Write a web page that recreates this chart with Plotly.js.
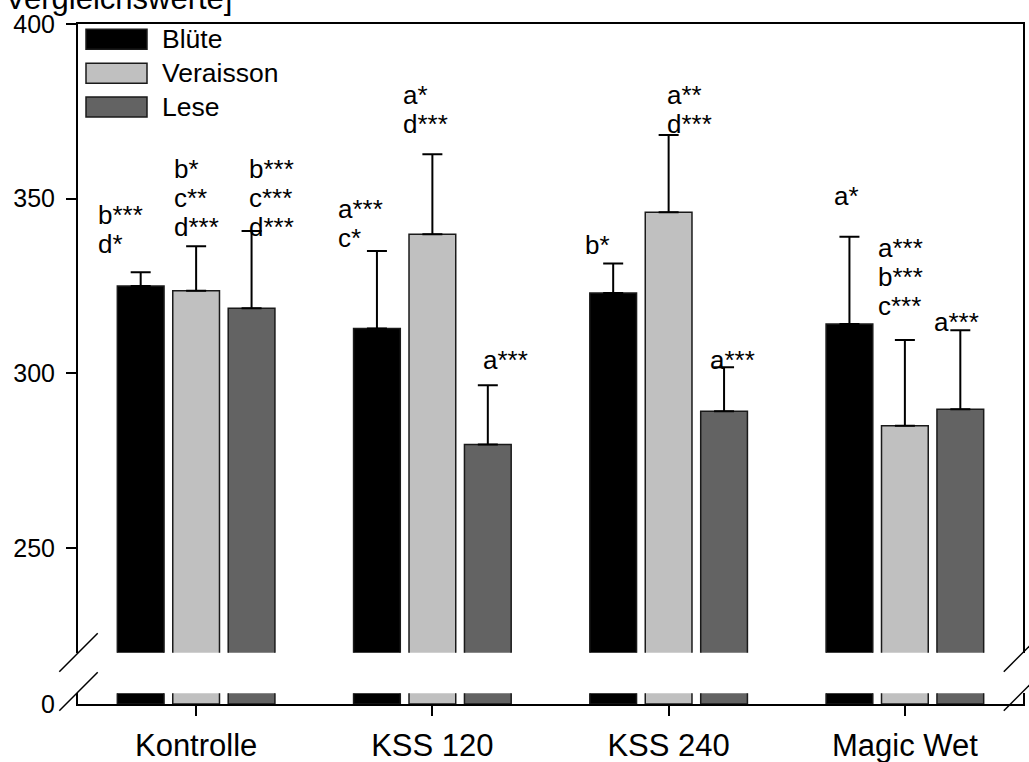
<!DOCTYPE html>
<html>
<head>
<meta charset="utf-8">
<script src="https://cdn.plot.ly/plotly-3.0.1.min.js"></script>
<style>html,body{margin:0;padding:0;background:#fff;}#chart{width:1029px;height:762px;}</style>
</head>
<body>
<div id="chart"></div>
<script>
// ---- data ----
const categories = ['Kontrolle', 'KSS 120', 'KSS 240', 'Magic Wet'];
const seriesNames = ['Blüte', 'Veraisson', 'Lese'];
const bluete = [325.0, 312.8, 323.0, 314.1];
const veraisson = [323.6, 339.8, 346.1, 285.0];
const lese = [318.6, 279.6, 289.1, 289.7];
const errBluete = [3.9, 22.2, 8.4, 25.0];
const errVeraisson = [12.8, 22.9, 22.1, 24.5];
const errLese = [22.1, 17.0, 12.6, 22.6];
const sigBluete = [['b***', 'd*'], ['a***', 'c*'], ['b*'], ['a*']];
const sigVeraisson = [['b*', 'c**', 'd***'], ['a*', 'd***'], ['a**', 'd***'], ['a***', 'b***', 'c***']];
const sigLese = [['b***', 'c***', 'd***'], ['a***'], ['a***'], ['a***']];
const yTickVals = [250, 300, 350, 400];
const yTitleFragment = 'Vergleichswerte]';

// ---- styles / layout geometry ----
const W = 1029, H = 762;
const M = {l: 78, r: 6, t: 24, b: 58};
const pw = W - M.l - M.r, ph = H - M.t - M.b;
const px2x = px => (px - M.l) / pw;
const px2y = py => (H - M.b - py) / ph;
const FONT = 'Arial, "Liberation Sans", sans-serif';
const colors = ['#000000', '#c0c0c0', '#636363'];
const outline = '#1a1a1a';

const values = [bluete, veraisson, lese];
const errs = [errBluete, errVeraisson, errLese];
const sigs = [sigBluete, sigVeraisson, sigLese];

// label placement: first-line y (data units) and x shift (px) relative to category center
const labelY = [[345.3, 347.1, 336.8, 350.7], [358.5, 379.6, 379.6, 335.9], [358.5, 303.7, 303.7, 314.7]];
const labelDx = [[-100, -96, -86, -73], [-24, -31, -4, -29], [51, 49, 39, 27]];
const linePitch = 29;

const traces = [];
values.forEach((vals, s) => {
  traces.push({
    type: 'bar', x: categories, y: vals, name: seriesNames[s],
    xaxis: 'x', yaxis: 'y', showlegend: false,
    marker: {color: colors[s], line: {color: outline, width: 1.5}},
    error_y: {type: 'data', symmetric: false, array: errs[s], arrayminus: errs[s].map(() => 0),
              color: '#000', thickness: 2, width: 10},
    hoverinfo: 'x+y'
  });
  traces.push({
    type: 'bar', x: categories, y: vals, name: seriesNames[s],
    xaxis: 'x2', yaxis: 'y2', showlegend: false,
    marker: {color: colors[s], line: {color: outline, width: 1.5}},
    hoverinfo: 'skip'
  });
});

const shapes = [];
const annotations = [];

// axis break marks
const breakCenters = [78.5, 1023];
breakCenters.forEach(cx => {
  [[671.7, 633.3], [710.7, 672.3]].forEach(([y0, y1]) => {
    shapes.push({type: 'line', xref: 'paper', yref: 'paper',
      x0: px2x(cx - 19.2), y0: px2y(y0), x1: px2x(cx + 19.2), y1: px2y(y1),
      line: {color: '#000', width: 1.5}});
  });
});

// manual legend
const legTop = [29.3, 63.2, 97.1];
seriesNames.forEach((nm, s) => {
  shapes.push({type: 'rect', xref: 'paper', yref: 'paper',
    x0: px2x(86), x1: px2x(147), y0: px2y(legTop[s] + 20), y1: px2y(legTop[s]),
    fillcolor: colors[s], line: {color: outline, width: 1.5}});
  annotations.push({xref: 'paper', yref: 'paper', x: px2x(160), y: px2y(legTop[s] + 10),
    xanchor: 'left', yanchor: 'middle', text: nm, showarrow: false,
    font: {family: FONT, size: 26.5, color: '#000'}});
});

// significance labels
sigs.forEach((sig, s) => {
  sig.forEach((lines, c) => {
    lines.forEach((t, k) => {
      annotations.push({xref: 'x', yref: 'y', x: categories[c], y: labelY[s][c],
        xshift: labelDx[s][c], yshift: -linePitch * k,
        xanchor: 'left', yanchor: 'middle', text: t, showarrow: false,
        font: {family: FONT, size: 26, color: '#000'}});
    });
  });
});

// partially visible axis title at top
annotations.push({xref: 'paper', yref: 'paper', x: px2x(234), y: px2y(-1.7),
  xanchor: 'right', yanchor: 'middle', text: yTitleFragment, showarrow: false,
  font: {family: FONT, size: 31, color: '#000'}});

const axisCommon = {showgrid: false, zeroline: false, linecolor: '#000', linewidth: 2,
  tickcolor: '#000', tickwidth: 2, fixedrange: true};

const layout = {
  width: W, height: H,
  margin: {l: M.l, r: M.r, t: M.t, b: M.b, pad: 0},
  paper_bgcolor: '#fff', plot_bgcolor: '#fff',
  font: {family: FONT, color: '#000'},
  barmode: 'group', bargap: 0.296, bargroupgap: 0.157,
  showlegend: false,
  xaxis: Object.assign({}, axisCommon, {domain: [0, 1], anchor: 'y', side: 'top', type: 'category',
    range: [-0.5, 3.5], showline: true, ticks: '', showticklabels: false}),
  xaxis2: Object.assign({}, axisCommon, {domain: [0, 1], anchor: 'y2', side: 'bottom', type: 'category',
    range: [-0.5, 3.5], showline: true, ticks: 'outside', ticklen: 10,
    tickfont: {family: FONT, size: 31, color: '#000'}, ticklabelstandoff: 3}),
  yaxis: Object.assign({}, axisCommon, {domain: [px2y(652.7), 1], anchor: 'x', range: [220, 400],
    tickvals: yTickVals, ticks: 'outside', ticklen: 10, showline: true, mirror: true,
    tickfont: {family: FONT, size: 25, color: '#000'}, ticklabelstandoff: 6}),
  yaxis2: Object.assign({}, axisCommon, {domain: [0, px2y(693.3)], anchor: 'x2', range: [0, 10],
    tickvals: [0], ticks: 'outside', ticklen: 10, tickcolor: 'rgba(0,0,0,0)', showline: true, mirror: true,
    tickfont: {family: FONT, size: 25, color: '#000'}, ticklabelstandoff: 6}),
  shapes: shapes,
  annotations: annotations
};

Plotly.newPlot('chart', traces, layout, {displayModeBar: false, staticPlot: true});
</script>
</body>
</html>
